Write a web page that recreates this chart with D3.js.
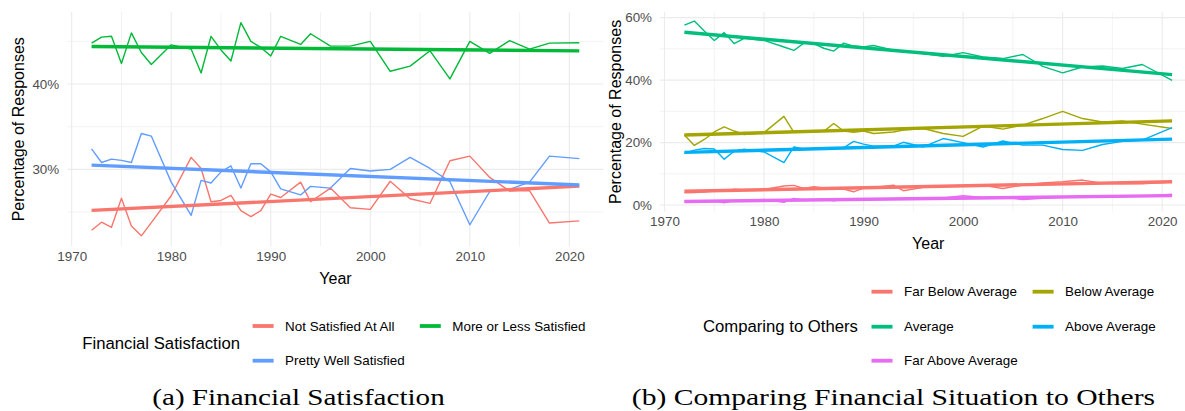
<!DOCTYPE html>
<html>
<head>
<meta charset="utf-8">
<script src="https://cdn.jsdelivr.net/npm/d3@7"></script>
<style>
  html, body { margin: 0; padding: 0; background: #ffffff; }
  svg { display: block; }
  text { font-family: "Liberation Sans", Arial, sans-serif; }
  .caption { font-family: "Liberation Serif", "DejaVu Serif", serif; }
</style>
</head>
<body>
<svg id="chart" width="1185" height="411"></svg>
<script>
// GSS survey years
const years = [1972, 1973, 1974, 1975, 1976, 1977, 1978, 1980, 1982, 1983, 1984, 1985, 1986, 1987, 1988, 1989, 1990,
               1991, 1993, 1994, 1996, 1998, 2000, 2002, 2004, 2006, 2008, 2010, 2012, 2014, 2016, 2018, 2021];

// (a) Financial satisfaction, % of responses
const satNotAtAll    = [22.85, 23.8, 23.2, 26.6, 23.35, 22.2, 23.75, 26.9, 31.4, 30.1, 26.2, 26.35, 26.95, 25.15, 24.45, 25.15, 27.1,
                        26.7, 28.5, 26.2, 27.8, 25.5, 25.3, 28.6, 26.55, 26.0, 31.0, 31.55, 29.05, 27.45, 27.5, 23.7, 23.95];
const satMoreOrLess  = [44.8, 45.5, 45.6, 42.4, 46.0, 43.7, 42.3, 44.6, 44.1, 41.3, 45.6, 44.0, 42.7, 47.2, 45.0, 44.3, 43.3,
                        45.6, 44.65, 45.9, 44.45, 44.45, 45.0, 41.5, 42.1, 43.9, 40.6, 45.0, 43.6, 45.1, 44.1, 44.8, 44.85];
const satPrettyWell  = [32.4, 30.8, 31.2, 31.05, 30.8, 34.2, 33.9, 28.5, 24.6, 28.7, 28.4, 29.7, 30.4, 27.8, 30.65, 30.65, 29.7,
                        27.7, 27.0, 28.0, 27.8, 30.1, 29.8, 30.0, 31.4, 30.1, 28.55, 23.5, 27.4, 27.65, 28.5, 31.55, 31.25];
const satLabels = ["Not Satisfied At All", "More or Less Satisfied", "Pretty Well Satisfied"];
const satColors = ["#F8766D", "#00BA38", "#619CFF"];

// (b) Financial situation compared with others, % of responses
const cmpFarBelow  = [3.9, 4.0, 4.2, 4.5, 4.4, 5.1, 4.8, 5.0, 6.1, 6.3, 5.3, 5.85, 5.5, 5.3, 5.1, 4.25, 5.4,
                      5.6, 6.4, 4.6, 5.65, 6.1, 6.1, 6.3, 5.3, 6.4, 7.1, 7.45, 8.0, 7.0, 6.8, 6.8, 7.35];
const cmpBelow     = [22.4, 19.1, 21.0, 23.4, 25.0, 23.7, 22.6, 23.2, 28.4, 23.3, 23.3, 23.5, 23.6, 26.1, 23.7, 23.3, 23.7,
                      22.9, 23.4, 24.0, 24.5, 22.9, 22.0, 25.3, 24.3, 25.6, 27.7, 30.0, 27.7, 26.6, 26.9, 25.9, 24.5];
const cmpAverage   = [57.6, 58.9, 55.7, 52.7, 55.2, 51.7, 53.4, 52.7, 50.6, 49.5, 51.85, 51.7, 50.2, 49.3, 51.85, 50.9, 50.6,
                      51.1, 49.6, 49.3, 48.5, 47.6, 48.8, 47.4, 46.9, 48.2, 44.4, 42.3, 44.2, 44.5, 43.7, 45.0, 39.9];
const cmpAbove     = [16.5, 17.6, 18.1, 17.95, 14.7, 17.25, 17.9, 17.0, 13.6, 18.6, 17.95, 18.1, 18.3, 18.1, 18.3, 20.4, 19.5,
                      18.85, 18.85, 20.1, 18.6, 21.3, 20.0, 18.6, 20.5, 19.2, 19.2, 17.8, 17.5, 19.4, 20.4, 20.8, 24.8];
const cmpFarAbove  = [1.2, 1.2, 1.3, 1.3, 0.75, 1.4, 1.5, 1.8, 0.85, 2.1, 1.6, 1.7, 1.9, 1.4, 1.8, 1.9, 1.8,
                      1.9, 2.0, 2.1, 2.0, 2.3, 3.0, 2.4, 2.5, 1.8, 2.2, 2.5, 2.6, 2.7, 2.7, 2.8, 3.5];
const cmpLabels = ["Far Below Average", "Below Average", "Average", "Above Average", "Far Above Average"];
const cmpColors = ["#F8766D", "#A3A500", "#00BF7D", "#00B0F6", "#E76BF3"];

// Axis breaks
const xBreaks = [1970, 1980, 1990, 2000, 2010, 2020];
const xMinor  = [1975, 1985, 1995, 2005, 2015];
const satYBreaks = [30, 40];
const satYMinor  = [25, 35, 45];
const cmpYBreaks = [0, 20, 40, 60];
const cmpYMinor  = [10, 30, 50];

const svg = d3.select("#chart");

// Least-squares straight line through (year, value)
function linearFit(xs, ys) {
  const mx = d3.mean(xs), my = d3.mean(ys);
  let sxy = 0, sxx = 0;
  xs.forEach((x, i) => { sxy += (x - mx) * (ys[i] - my); sxx += (x - mx) * (x - mx); });
  const b = sxy / sxx;
  return x => my + b * (x - mx);
}

function expand(ext, f) {
  const pad = (ext[1] - ext[0]) * f;
  return [ext[0] - pad, ext[1] + pad];
}

function drawPanel(opts) {
  const { id, left, right, top, bottom, series, colors, yBreaks, yMinor } = opts;
  const g = svg.append("g");

  const x = d3.scaleLinear().domain(expand(d3.extent(years), 0.05)).range([left, right]);
  const allVals = series.flat();
  const y = d3.scaleLinear().domain(expand(d3.extent(allVals), 0.05)).range([bottom, top]);

  g.append("clipPath").attr("id", "clip-" + id)
    .append("rect").attr("x", left).attr("y", top).attr("width", right - left).attr("height", bottom - top);

  const grid = g.append("g").attr("clip-path", `url(#clip-${id})`);
  // minor grid
  grid.selectAll(".ymin").data(yMinor).join("line")
    .attr("x1", left).attr("x2", right).attr("y1", d => y(d)).attr("y2", d => y(d))
    .attr("stroke", "#EBEBEB").attr("stroke-width", 0.6);
  grid.selectAll(".xmin").data(xMinor).join("line")
    .attr("y1", top).attr("y2", bottom).attr("x1", d => x(d)).attr("x2", d => x(d))
    .attr("stroke", "#EBEBEB").attr("stroke-width", 0.6);
  // major grid
  grid.selectAll(".ymaj").data(yBreaks).join("line")
    .attr("x1", left).attr("x2", right).attr("y1", d => y(d)).attr("y2", d => y(d))
    .attr("stroke", "#EBEBEB").attr("stroke-width", 1.1);
  grid.selectAll(".xmaj").data(xBreaks).join("line")
    .attr("y1", top).attr("y2", bottom).attr("x1", d => x(d)).attr("x2", d => x(d))
    .attr("stroke", "#EBEBEB").attr("stroke-width", 1.1);

  const plot = g.append("g").attr("clip-path", `url(#clip-${id})`);
  const line = d3.line().x(d => x(d[0])).y(d => y(d[1]));

  // observed shares
  series.forEach((vals, i) => {
    plot.append("path")
      .datum(years.map((yr, j) => [yr, vals[j]]))
      .attr("d", line).attr("fill", "none")
      .attr("stroke", colors[i]).attr("stroke-width", 1.4)
      .attr("stroke-linejoin", "round");
  });
  // linear trends
  series.forEach((vals, i) => {
    const fit = linearFit(years, vals);
    const ends = d3.extent(years);
    plot.append("path")
      .datum(ends.map(yr => [yr, fit(yr)]))
      .attr("d", line).attr("fill", "none")
      .attr("stroke", colors[i]).attr("stroke-width", 3.4);
  });

  // axes
  const ax = g.append("g").attr("transform", `translate(0,${bottom})`)
    .call(d3.axisBottom(x).tickValues(xBreaks).tickFormat(d3.format("d")).tickSize(0).tickPadding(5));
  const ay = g.append("g").attr("transform", `translate(${left},0)`)
    .call(d3.axisLeft(y).tickValues(yBreaks).tickFormat(d => d + "%").tickSize(0).tickPadding(8));
  [ax, ay].forEach(a => {
    a.select(".domain").remove();
    a.selectAll("text").attr("fill", "#4D4D4D").style("font-size", "13.4px")
      .style("font-family", '"Liberation Sans", Arial, sans-serif');
  });

  return { x, y };
}

// Panel (a)
const pa = { left: 67.2, right: 603.7, top: 12, bottom: 246.5 };
drawPanel({ id: "a", ...pa, series: [satNotAtAll, satMoreOrLess, satPrettyWell], colors: satColors,
            yBreaks: satYBreaks, yMinor: satYMinor });
// Panel (b)
const pb = { left: 660, right: 1196.5, top: 12, bottom: 211.8 };
drawPanel({ id: "b", ...pb, series: [cmpFarBelow, cmpBelow, cmpAverage, cmpAbove, cmpFarAbove], colors: cmpColors,
            yBreaks: cmpYBreaks, yMinor: cmpYMinor });

// Axis titles
function axisTitles(p, xTitleY, yTitleX) {
  svg.append("text").attr("x", (p.left + p.right) / 2).attr("y", xTitleY)
    .attr("text-anchor", "middle").attr("dominant-baseline", "central")
    .style("font-size", "16px").attr("fill", "#000").text("Year");
  svg.append("text")
    .attr("transform", `translate(${yTitleX},${(p.top + p.bottom) / 2}) rotate(-90)`)
    .attr("text-anchor", "middle").attr("dominant-baseline", "central")
    .style("font-size", "16px").attr("fill", "#000").text("Percentage of Responses");
}
axisTitles(pa, 278, 18);
axisTitles(pb, 243.5, 615);

// Legends
function legend(title, labels, colors, titleX, titleY, keyXs, rowY) {
  const lg = svg.append("g");
  lg.append("text").attr("x", titleX).attr("y", titleY).attr("dominant-baseline", "central")
    .style("font-size", "16.7px").attr("fill", "#000").text(title);
  labels.forEach((lab, i) => {
    const kx = keyXs[i % 2], ky = rowY[Math.floor(i / 2)];
    lg.append("line").attr("x1", kx).attr("x2", kx + 21).attr("y1", ky).attr("y2", ky)
      .attr("stroke", colors[i]).attr("stroke-width", 3.8);
    lg.append("text").attr("x", kx + 32.5).attr("y", ky).attr("dominant-baseline", "central")
      .style("font-size", "13.4px").attr("fill", "#000").text(lab);
  });
}
legend("Financial Satisfaction", satLabels, satColors, 82.3, 343.5, [252.6, 419.8], [326, 360.7]);
legend("Comparing to Others", cmpLabels, cmpColors, 703, 326.7, [871.5, 1032.6], [291.7, 326.7, 360.7]);

// Sub-figure captions
function caption(txt, cx, width) {
  svg.append("text").attr("class", "caption").attr("x", cx).attr("y", 405)
    .attr("text-anchor", "middle").style("font-size", "23px").attr("fill", "#000")
    .attr("textLength", width).attr("lengthAdjust", "spacingAndGlyphs").text(txt);
}
caption("(a) Financial Satisfaction", 298.5, 292.4);
caption("(b) Comparing Financial Situation to Others", 893.4, 523.2);
</script>
</body>
</html>
